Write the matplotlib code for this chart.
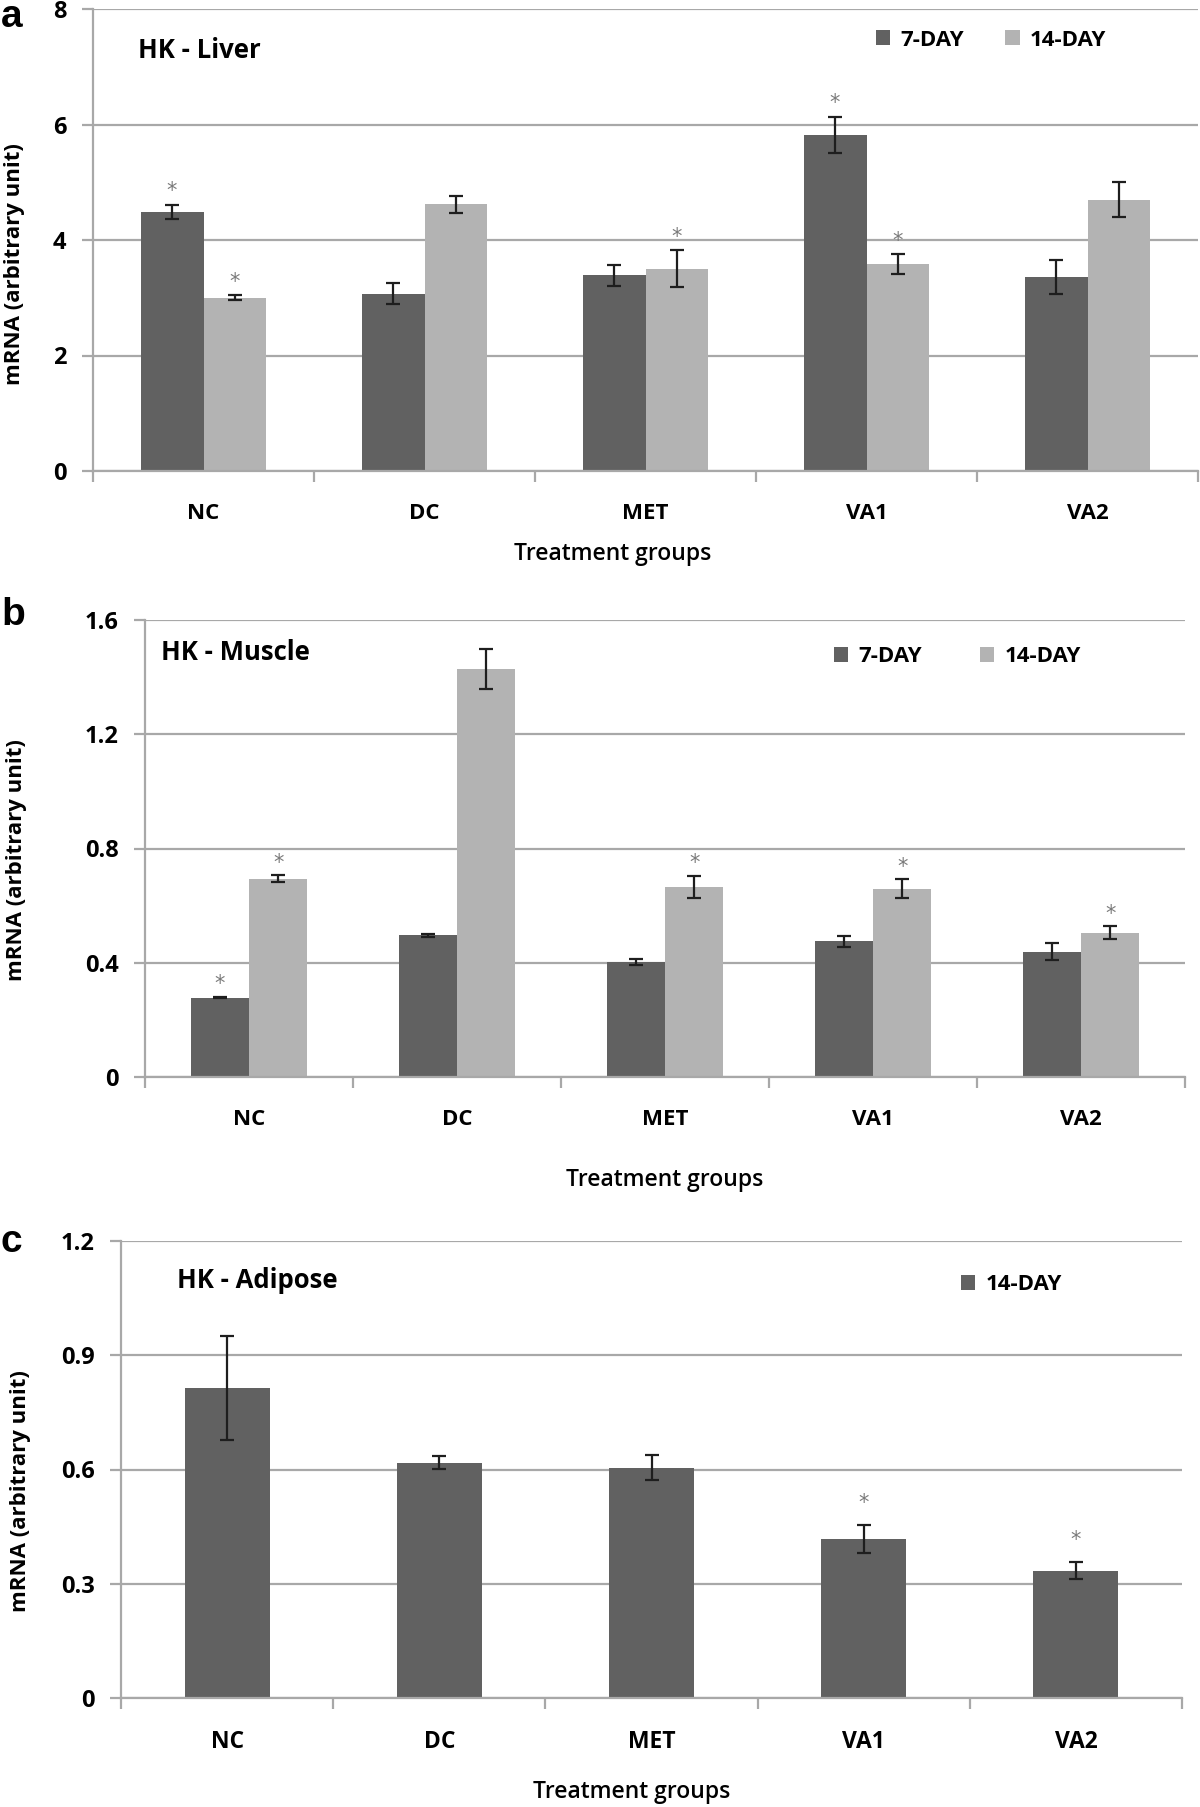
import numpy as np
import matplotlib.pyplot as plt
from matplotlib.patches import Patch

plt.rcParams['font.family'] = ['Open Sans', 'DejaVu Sans']
plt.rcParams['font.weight'] = 'bold'

groups = ['NC', 'DC', 'MET', 'VA1', 'VA2']

# HK - Liver
liver_7 = [4.48, 3.07, 3.39, 5.82, 3.36]
liver_7_err = [0.12, 0.18, 0.18, 0.31, 0.29]
liver_14 = [3.00, 4.62, 3.50, 3.58, 4.70]
liver_14_err = [0.04, 0.15, 0.32, 0.17, 0.31]
liver_7_sig = [True, False, False, True, False]
liver_14_sig = [True, False, True, True, False]

# HK - Muscle
muscle_7 = [0.278, 0.496, 0.402, 0.475, 0.438]
muscle_7_err = [0.003, 0.006, 0.010, 0.019, 0.030]
muscle_14 = [0.694, 1.427, 0.665, 0.659, 0.505]
muscle_14_err = [0.013, 0.070, 0.040, 0.033, 0.023]
muscle_7_sig = [True, False, False, False, False]
muscle_14_sig = [True, False, True, True, True]

# HK - Adipose
adipose_14 = [0.814, 0.618, 0.605, 0.417, 0.334]
adipose_14_err = [0.137, 0.017, 0.033, 0.036, 0.022]
adipose_14_sig = [False, False, False, True, True]

DARK = '#616161'
LIGHT = '#b3b3b3'
GRID = '#a8a8a8'
STAR = '#7a7a7a'

W, H = 1200, 1807
fig = plt.figure(figsize=(W / 100, H / 100), dpi=100)


def fx(px):
    return px / W


def fy(py):
    return 1 - py / H


def rect(left, top, right, bottom):
    return [left / W, 1 - bottom / H, (right - left) / W, (bottom - top) / H]


def setup(ax, ymax, step, tick_fs, xlab_fs):
    ax.set_xlim(-0.5, 4.5)
    ax.set_ylim(0, ymax)
    ticks = np.arange(0, ymax + step / 2, step)
    ax.set_yticks(ticks)
    ax.set_yticklabels(['%g' % round(t, 2) for t in ticks], fontsize=tick_fs)
    ax.yaxis.grid(True, color=GRID, lw=1.6)
    ax.set_axisbelow(True)
    for s in ['top', 'right']:
        ax.spines[s].set_visible(False)
    for s in ['left', 'bottom']:
        ax.spines[s].set_color(GRID)
        ax.spines[s].set_linewidth(1.6)
    ax.set_xticks(range(len(groups)))
    ax.set_xticklabels(groups, fontsize=xlab_fs)
    ax.set_xticks(np.arange(-0.5, 4.6, 1), minor=True)
    ax.tick_params(axis='x', which='major', length=0, pad=23)
    ax.tick_params(axis='x', which='minor', length=8, width=1.6, color=GRID)
    ax.tick_params(axis='y', length=8, width=1.6, color=GRID, pad=11)


def bars(ax, xs, vals, errs, sigs, w, color, star_off):
    ax.bar(xs, vals, w, color=color, yerr=errs,
           error_kw=dict(ecolor='#1e1e1e', elinewidth=1.6, capsize=5, capthick=1.6))
    for x, v, e, s in zip(xs, vals, errs, sigs):
        if s:
            ax.annotate('*', (x, v + e), xytext=(0, star_off), textcoords='offset points',
                        ha='center', va='center', color=STAR, fontsize=15,
                        family='DejaVu Sans', fontweight='normal')


x = np.arange(len(groups))

# ---- panel a
ax1 = fig.add_axes(rect(93, 9, 1198, 471))
setup(ax1, 8, 2, 17, 16)
w = 0.285
bars(ax1, x - w / 2, liver_7, liver_7_err, liver_7_sig, w, DARK, 10)
bars(ax1, x + w / 2, liver_14, liver_14_err, liver_14_sig, w, LIGHT, 10)

# ---- panel b
ax2 = fig.add_axes(rect(145, 620, 1185, 1077))
setup(ax2, 1.6, 0.4, 17, 16)
w = 0.28
bars(ax2, x - w / 2, muscle_7, muscle_7_err, muscle_7_sig, w, DARK, 9)
bars(ax2, x + w / 2, muscle_14, muscle_14_err, muscle_14_sig, w, LIGHT, 9)

# ---- panel c
ax3 = fig.add_axes(rect(121, 1241, 1182, 1698))
setup(ax3, 1.2, 0.3, 17, 16.5)
bars(ax3, x, adipose_14, adipose_14_err, adipose_14_sig, 0.40, DARK, 16)

# titles, labels, legends
for letter, py in [('a', 27), ('b', 625), ('c', 1252)]:
    fig.text(fx(1), fy(py), letter, family='Liberation Sans', fontsize=28,
             fontweight='bold', ha='left', va='baseline')

for txt, px, py in [('HK - Liver', 138, 51), ('HK - Muscle', 161, 652),
                    ('HK - Adipose', 177, 1281)]:
    fig.text(fx(px), fy(py), txt, fontsize=18.5, ha='left', va='center')

for px, py in [(15, 264), (17, 860), (21, 1491)]:
    fig.text(fx(px), fy(py), 'mRNA (arbitrary unit)', rotation=90, fontsize=16,
             ha='center', va='center', fontweight='bold')

for px, py in [(613, 554), (665, 1180), (632, 1792)]:
    fig.text(fx(px), fy(py), 'Treatment groups', fontsize=16.5, ha='center',
             va='center', fontweight='semibold')

leg_kw = dict(loc='center left', frameon=False, handlelength=0.65, handleheight=0.65,
              handletextpad=0.45, borderpad=0, borderaxespad=0,
              prop={'weight': 'bold', 'size': 16})
h7 = Patch(facecolor=DARK)
h14 = Patch(facecolor=LIGHT)
fig.legend([h7, h14], ['7-DAY', '14-DAY'], bbox_to_anchor=(fx(876), fy(40)),
           ncol=2, columnspacing=1.85, **leg_kw)
fig.legend([h7, h14], ['7-DAY', '14-DAY'], bbox_to_anchor=(fx(834), fy(657)),
           ncol=2, columnspacing=2.6, **leg_kw)
fig.legend([Patch(facecolor=DARK)], ['14-DAY'], bbox_to_anchor=(fx(961), fy(1285)),
           **leg_kw)

fig.savefig('out.png', dpi=100)
